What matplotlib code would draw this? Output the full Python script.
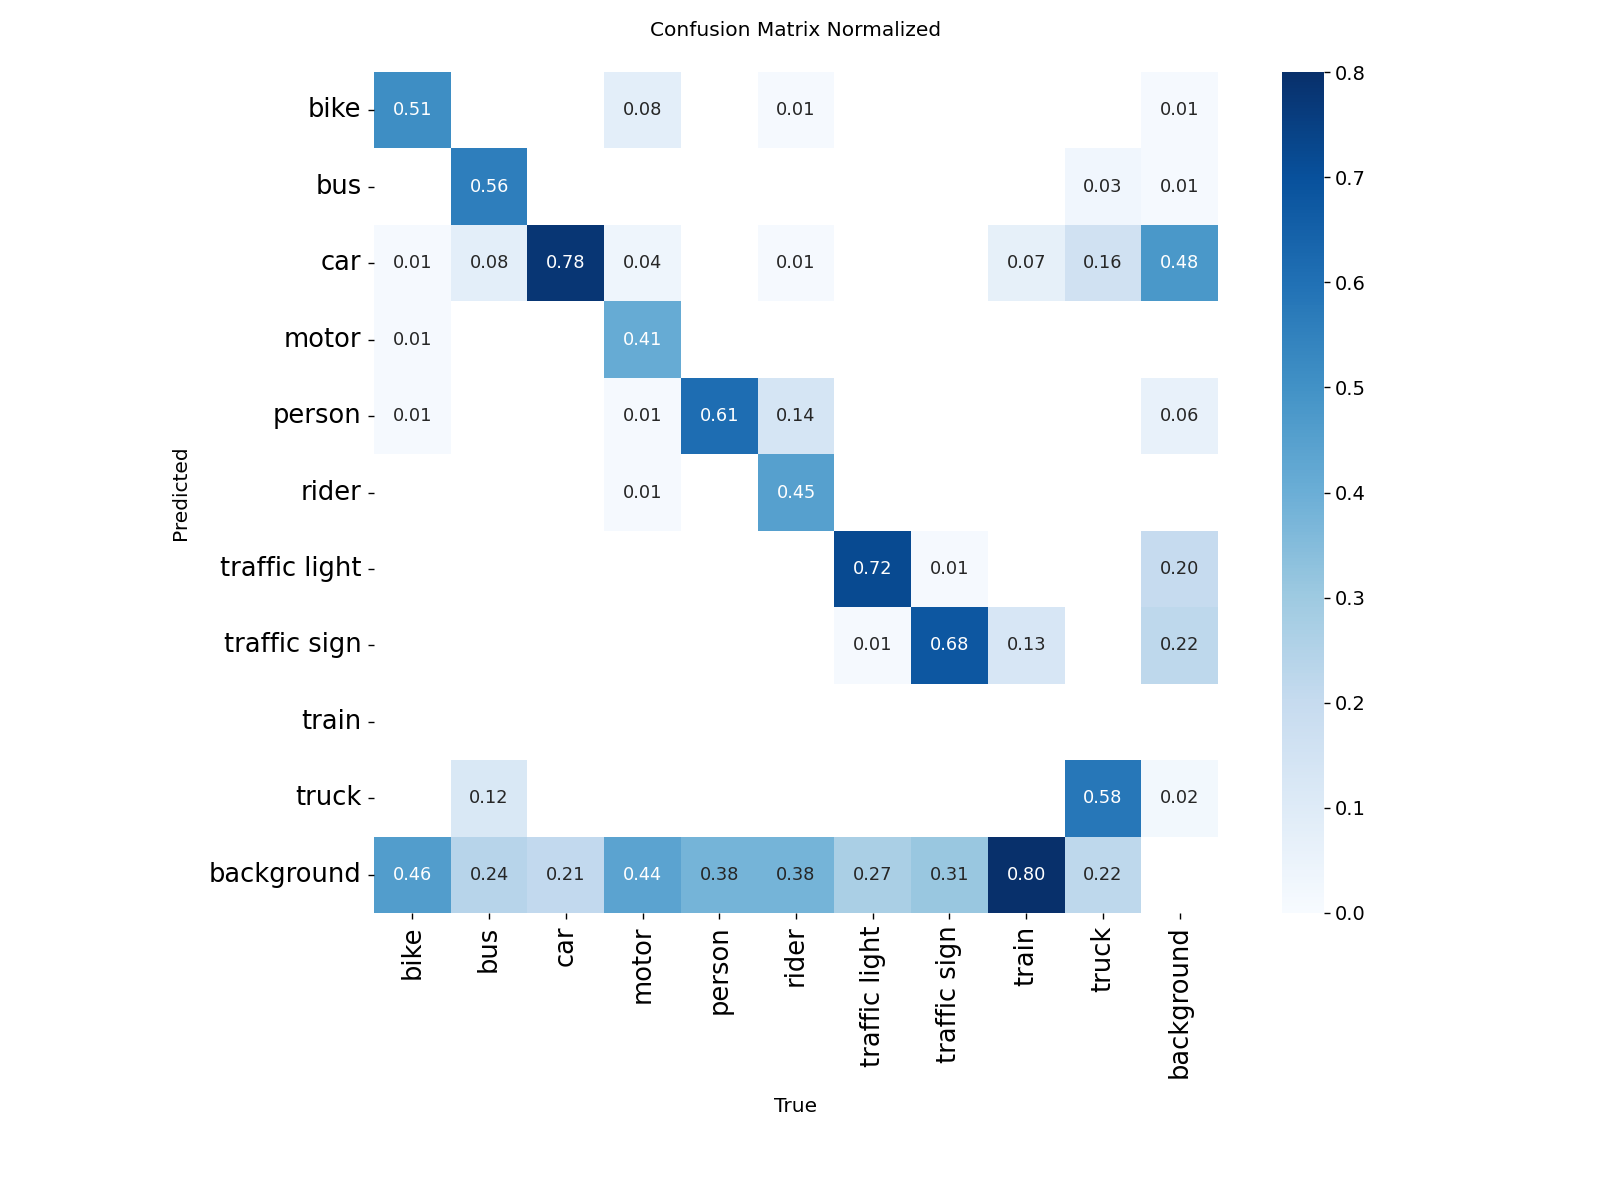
import numpy as np
import matplotlib
matplotlib.use("Agg")
import matplotlib.pyplot as plt
import seaborn as sns

nan = np.nan
labels = ["bike", "bus", "car", "motor", "person", "rider",
          "traffic light", "traffic sign", "train", "truck", "background"]

row_bike          = [0.51, nan, nan, 0.08, nan, 0.01, nan, nan, nan, nan, 0.01]
row_bus           = [nan, 0.56, nan, nan, nan, nan, nan, nan, nan, 0.03, 0.01]
row_car           = [0.01, 0.08, 0.78, 0.04, nan, 0.01, nan, nan, 0.07, 0.16, 0.48]
row_motor         = [0.01, nan, nan, 0.41, nan, nan, nan, nan, nan, nan, nan]
row_person        = [0.01, nan, nan, 0.01, 0.61, 0.14, nan, nan, nan, nan, 0.06]
row_rider         = [nan, nan, nan, 0.01, nan, 0.45, nan, nan, nan, nan, nan]
row_traffic_light = [nan, nan, nan, nan, nan, nan, 0.72, 0.01, nan, nan, 0.20]
row_traffic_sign  = [nan, nan, nan, nan, nan, nan, 0.01, 0.68, 0.13, nan, 0.22]
row_train         = [nan, nan, nan, nan, nan, nan, nan, nan, nan, nan, nan]
row_truck         = [nan, 0.12, nan, nan, nan, nan, nan, nan, nan, 0.58, 0.02]
row_background    = [0.46, 0.24, 0.21, 0.44, 0.38, 0.38, 0.27, 0.31, 0.80, 0.22, nan]

matrix = np.array([row_bike, row_bus, row_car, row_motor, row_person, row_rider,
                   row_traffic_light, row_traffic_sign, row_train, row_truck,
                   row_background])

plt.rcParams['font.family'] = ['DejaVu Sans']
fig = plt.figure(figsize=(16, 12), dpi=100)
W, H = 1600, 1200
ax = fig.add_axes([374 / W, 1 - 913 / H, (1218 - 374) / W, (913 - 72) / H])
cax = fig.add_axes([1282 / W, 1 - 913 / H, (1324 - 1282) / W, (913 - 72) / H])

sns.heatmap(matrix, ax=ax, cbar_ax=cax, annot=True, annot_kws={"size": 12.8},
            cmap="Blues", fmt=".2f", square=False, vmin=0.0, vmax=0.8,
            xticklabels=labels, yticklabels=labels)
ax.set_facecolor((1, 1, 1))

ax.tick_params(axis='both', which='major', labelsize=18.5, length=4, width=1,
               pad=5, color='black')
ax.set_xticklabels(labels, rotation=90, fontsize=18.5)
ax.set_yticklabels(labels, rotation=0, fontsize=18.5)

ax.set_title("Confusion Matrix Normalized", fontsize=14.5, pad=26)
ax.set_xlabel("True", fontsize=14.5)
ax.set_ylabel("Predicted", fontsize=14.5)
ax.xaxis.label.set_va('center')
ax.yaxis.label.set_va('center')
ax.xaxis.set_label_coords(0.5, (913 - 1106) / (913 - 72))
ax.yaxis.set_label_coords((180 - 374) / (1218 - 374), 0.5)

cax.set_yticks([0.0, 0.1, 0.2, 0.3, 0.4, 0.5, 0.6, 0.7, 0.8])
cax.tick_params(labelsize=14, length=4, width=1, pad=4, color='black')

fig.savefig("out.png", dpi=100)
